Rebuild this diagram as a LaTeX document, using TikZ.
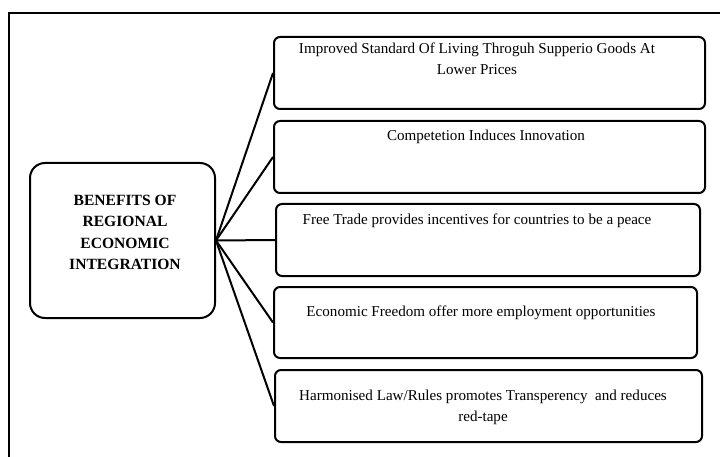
\documentclass[tikz,border=0pt]{standalone}
\usepackage{fontspec}
\setmainfont{Liberation Serif}
\begin{document}
\begin{tikzpicture}[x=1pt,y=-1pt,
  box/.style={draw, line width=2pt, rounded corners=6pt, inner sep=0pt},
  hubbox/.style={draw, line width=2pt, rounded corners=15pt, inner sep=0pt},
  txt/.style={anchor=north, inner sep=0pt, align=center, font=\fontsize{15.1}{21}\selectfont},
  btxt/.style={anchor=north, inner sep=0pt, align=center, font=\fontsize{15.6}{21.3}\selectfont\bfseries},
  link/.style={line width=2pt}]
\useasboundingbox (0,0) rectangle (720,457);
\draw[line width=2pt] (9,457) coordinate (fl) -- (9,13) coordinate (ftl) -- (720,13) coordinate (ftr);
% central box
\node[hubbox, minimum width=185pt, minimum height=155pt] (c) at (122.5,240.5) {};
\node[btxt] (ct) at (125,195) {BENEFITS OF\\REGIONAL\\ECONOMIC\\INTEGRATION};
% right boxes
\node[box, minimum width=431pt, minimum height=72pt] (b1) at (489.5,73) {};
\node[box, minimum width=431pt, minimum height=72pt] (b2) at (489.5,157) {};
\node[box, minimum width=424pt, minimum height=72pt] (b3) at (488,240) {};
\node[box, minimum width=423pt, minimum height=71pt] (b4) at (485.5,322.5) {};
\node[box, minimum width=427pt, minimum height=72pt] (b5) at (488.5,406) {};
\node[txt] (t1) at (477,43) {Improved Standard Of Living Throguh Supperio Goods At\\Lower Prices};
\node[txt] (t2) at (486,130) {Competetion Induces Innovation};
\node[txt] (t3) at (477,214) {Free Trade provides incentives for countries to be a peace};
\node[txt] (t4) at (481,306) {Economic Freedom offer more employment opportunities};
\node[txt] (t5) at (483,390) {Harmonised Law/Rules promotes Transperency\ \ and reduces\\red-tape};
% connectors
\foreach \b in {b1,b2,b3,b4,b5} \draw[link] (c.east) -- (\b.west);
\end{tikzpicture}
\end{document}
